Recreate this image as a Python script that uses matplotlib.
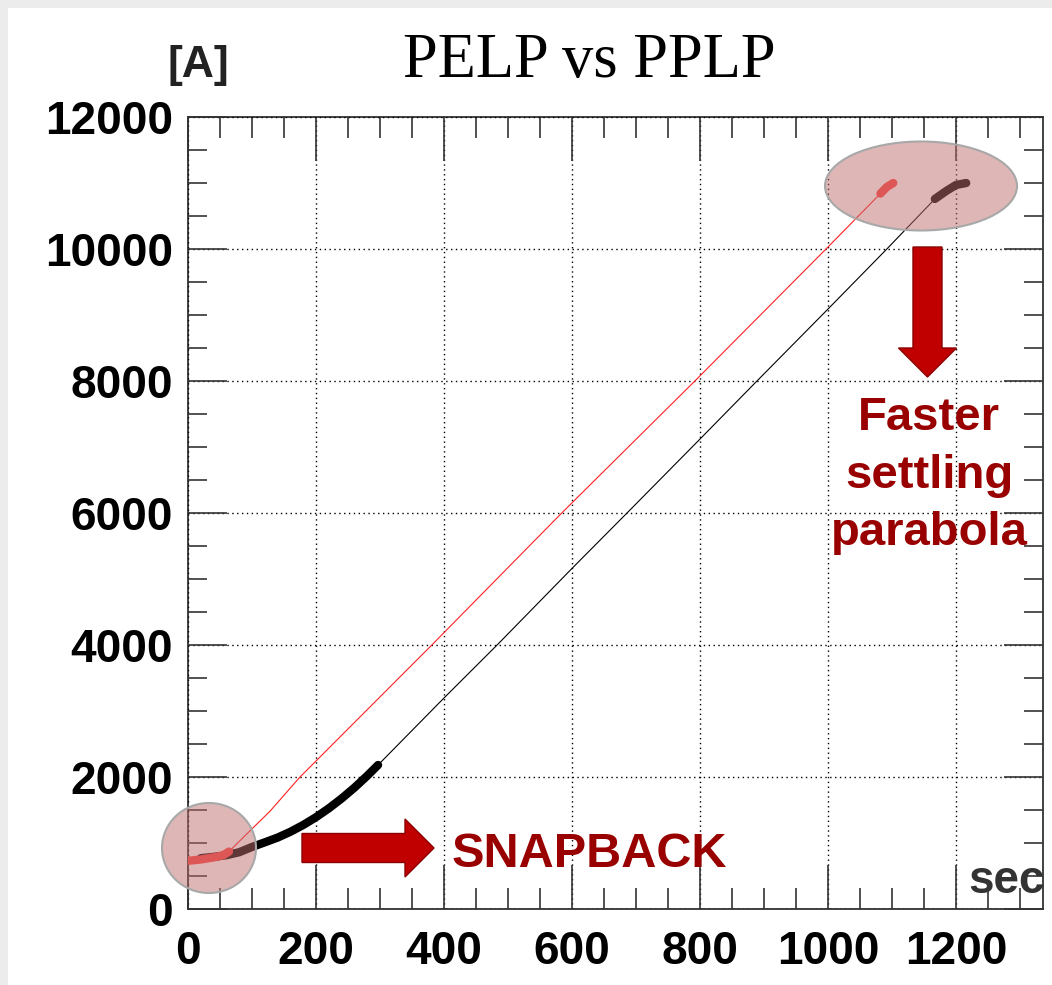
import matplotlib
matplotlib.use("Agg")
import matplotlib.pyplot as plt
from matplotlib.patches import Ellipse, FancyArrow, Rectangle
from matplotlib.ticker import MultipleLocator
from matplotlib.transforms import IdentityTransform

plt.rcParams['font.family'] = ['Liberation Sans', 'DejaVu Sans']

# PELP (red) - snapback start, linear ramp, settling parabola at the top
pelp_start_t = [0, 20, 45, 55, 64]
pelp_start_i = [730, 750, 790, 815, 870]
pelp_ramp_t = [64, 90, 128, 175, 381, 584, 792, 998, 1082]
pelp_ramp_i = [870, 1120, 1480, 2000, 4000, 6000, 8000, 10010, 10840]
pelp_end_t = [1082, 1092, 1102]
pelp_end_i = [10840, 10940, 11000]

# PPLP (black)
pplp_start_t = [20, 40, 60, 80, 100, 120, 140, 160, 180, 200, 220, 240, 260, 280, 297]
pplp_start_i = [770, 790, 815, 860, 940, 1010, 1082, 1170, 1273, 1391, 1525, 1674, 1838, 2018, 2182]
pplp_ramp_t = [297, 400, 483, 600, 686, 800, 886, 1000, 1092, 1167]
pplp_ramp_i = [2182, 3197, 4000, 5160, 6000, 7120, 7970, 9090, 10000, 10758]
pplp_end_t = [1167, 1185, 1200, 1216]
pplp_end_i = [10758, 10880, 10970, 11000]

W, H = 1052, 985
fig = plt.figure(figsize=(W / 100, H / 100), dpi=100)
fig.patch.set_facecolor('white')
fig.add_artist(Rectangle((0, H - 8), W, 8, transform=IdentityTransform(),
                         facecolor='#ececec', edgecolor='none'))
fig.add_artist(Rectangle((0, 0), 8, H, transform=IdentityTransform(),
                         facecolor='#ececec', edgecolor='none'))

ax = fig.add_axes([188 / W, 76 / H, 855 / W, 792 / H])
ax.set_xlim(0, 1336)
ax.set_ylim(0, 12000)

# curves
ax.plot(pplp_ramp_t, pplp_ramp_i, color='black', lw=0.8, zorder=3)
ax.plot(pplp_start_t, pplp_start_i, color='black', lw=6, solid_capstyle='round',
        solid_joinstyle='round', zorder=3)
ax.plot(pplp_end_t, pplp_end_i, color='black', lw=6, solid_capstyle='round',
        solid_joinstyle='round', zorder=3)
ax.plot(pelp_ramp_t, pelp_ramp_i, color='#ff2020', lw=0.8, zorder=4)
ax.plot(pelp_start_t, pelp_start_i, color='#ff4040', lw=6, solid_capstyle='round',
        solid_joinstyle='round', zorder=4)
ax.plot(pelp_end_t, pelp_end_i, color='#ff4040', lw=6, solid_capstyle='round',
        solid_joinstyle='round', zorder=4)

# ticks and grid, ROOT style
ax.xaxis.set_major_locator(MultipleLocator(200))
ax.xaxis.set_minor_locator(MultipleLocator(50))
ax.yaxis.set_major_locator(MultipleLocator(2000))
ax.yaxis.set_minor_locator(MultipleLocator(500))
ax.tick_params(axis='both', which='both', direction='in', top=True, right=True,
               color='#333333', width=1.2)
ax.tick_params(axis='x', which='major', length=32, labelsize=33, pad=15)
ax.tick_params(axis='x', which='minor', length=15)
ax.tick_params(axis='y', which='major', length=28, labelsize=33, pad=11)
ax.tick_params(axis='y', which='minor', length=14)
for lab in ax.get_xticklabels() + ax.get_yticklabels():
    lab.set_fontweight('bold')
for s in ax.spines.values():
    s.set_color('#333333')
    s.set_linewidth(1.3)
ax.grid(True, which='major', color='black', linestyle=(0, (1, 2.5)), linewidth=1.0)
ax.set_axisbelow(False)

# highlight ellipses
ov = dict(facecolor='#be6e6e', alpha=0.5, edgecolor='none', transform=IdentityTransform(),
          clip_on=False, zorder=6)
fig.add_artist(Ellipse((209, H - 848), 94, 90, **ov))
fig.add_artist(Ellipse((921, H - 186), 192, 89, **ov))
ed = dict(facecolor='none', edgecolor='#a8a8a8', lw=1.5, transform=IdentityTransform(),
          clip_on=False, zorder=7)
fig.add_artist(Ellipse((209, H - 848), 94, 90, **ed))
fig.add_artist(Ellipse((921, H - 186), 192, 89, **ed))

# arrows
arr = dict(width=29, head_width=58, head_length=29, length_includes_head=True,
           facecolor='#c00000', edgecolor='#8b0000', lw=1, transform=IdentityTransform())
fig.add_artist(FancyArrow(302, H - 848, 132, 0, **arr))
fig.add_artist(FancyArrow(927.5, H - 247, 0, -130, **arr))

dark_red = '#990000'
fig.text(452 / W, 1 - 867 / H, 'SNAPBACK', color=dark_red, fontsize=35,
         fontweight='bold', ha='left', va='baseline')
for txt, yb in [('Faster', 430), ('settling', 488), ('parabola', 545)]:
    fig.text(929 / W, 1 - yb / H, txt, color=dark_red, fontsize=34,
             fontweight='bold', ha='center', va='baseline')

fig.text(589 / W, 1 - 77 / H, 'PELP vs PPLP', fontsize=45, family='Liberation Serif',
         ha='center', va='baseline', color='black')
fig.text(167 / W, 1 - 77 / H, '[A]', fontsize=32, fontweight='bold', color='#222222',
         ha='left', va='baseline')
fig.text(968 / W, 1 - 893 / H, 'sec', fontsize=33, fontweight='bold', color='#333333',
         ha='left', va='baseline', zorder=10)

fig.savefig('out.png', dpi=100)
